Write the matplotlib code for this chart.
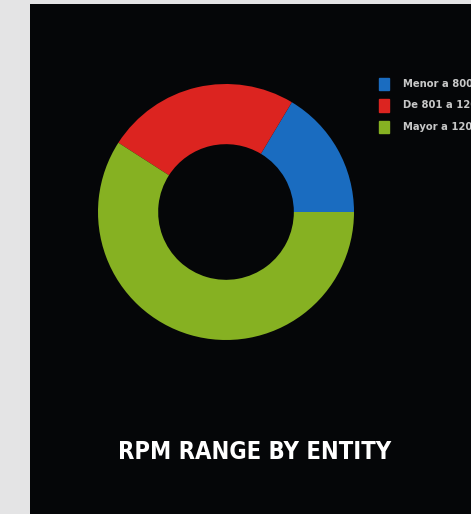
import matplotlib.pyplot as plt
from matplotlib.patches import Rectangle

# share of entities per RPM range
labels = ["Menor a 800", "De 801 a 1200", "Mayor a 1200"]
values = [16.4, 24.5, 59.1]
colors = ["#1a6cc0", "#dc2420", "#86b122"]
title = "RPM RANGE BY ENTITY"

W, H = 471, 514
fig = plt.figure(figsize=(W / 100, H / 100), dpi=100)
fig.patch.set_facecolor("#e4e4e5")

# black panel as a background axes
bg = fig.add_axes([30 / W, 0, 1 - 30 / W, (H - 4) / H], zorder=-1)
bg.set_facecolor("#050608")
bg.set_xticks([])
bg.set_yticks([])
for s in bg.spines.values():
    s.set_visible(False)

# donut, centre (226, 212) px, radius 128 px
cx, cy, r = 226, 212, 128
ax = fig.add_axes([(cx - r) / W, (H - cy - r) / H, 2 * r / W, 2 * r / H], zorder=1)
ax.pie(values, colors=colors, startangle=0, counterclock=True,
       radius=1, wedgeprops=dict(width=0.47, linewidth=0))
ax.set_xlim(-1, 1)
ax.set_ylim(-1, 1)
ax.axis("off")

# legend, clipped by the right edge like the original
for i, (lab, col) in enumerate(zip(labels, colors)):
    y = 84 + i * 21.5
    fig.patches.append(Rectangle((379 / W, 1 - (y + 6) / H), 10 / W, 12 / H,
                                 transform=fig.transFigure, color=col, zorder=2))
    fig.text(403 / W, 1 - y / H, lab, color="#c8c8c8", fontsize=7.2,
             fontweight="bold", va="center", ha="left", zorder=3)

fig.text(255 / W, 1 - 452 / H, title, color="white", fontsize=17,
         fontweight="bold", fontstretch="condensed", ha="center", va="center",
         family=["DejaVu Sans"], zorder=3)

fig.savefig("out.png", dpi=100, facecolor=fig.get_facecolor())
